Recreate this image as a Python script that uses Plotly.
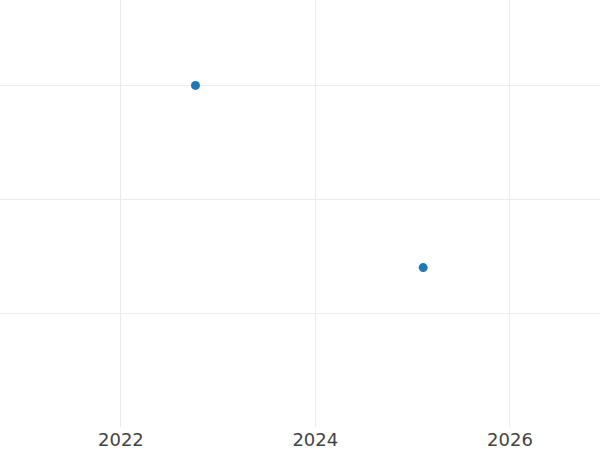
import plotly.graph_objects as go

# two observations, dates on x
dates = ["2022-10-08", "2025-02-09"]
values = [3.0, 1.4]

x_range = ["2020-10-04", "2026-12-05"]
y_range = [0, 3.75]

fig = go.Figure(
    go.Scatter(
        x=dates, y=values, mode="markers",
        marker=dict(size=9, color="#1f77b4"),
    )
)
fig.update_layout(
    width=600, height=450,
    margin=dict(l=0, r=0, t=0, b=23),
    plot_bgcolor="white", paper_bgcolor="white",
    showlegend=False,
    font=dict(family="DejaVu Sans", size=18, color="#444"),
)
fig.update_xaxes(
    range=x_range, dtick="M24", tick0="2022-01-01",
    showgrid=True, gridcolor="#ebebeb", zeroline=False, showline=False,
    automargin=False,
)
fig.update_yaxes(
    range=y_range, dtick=1, showticklabels=False,
    showgrid=True, gridcolor="#ebebeb", zeroline=False, showline=False,
)
# page body has a default 8px margin; drop it so the figure sits at the corner
fig.write_html(
    "out.html",
    config={"displayModeBar": False},
    post_script="document.body.style.margin='0';",
)
